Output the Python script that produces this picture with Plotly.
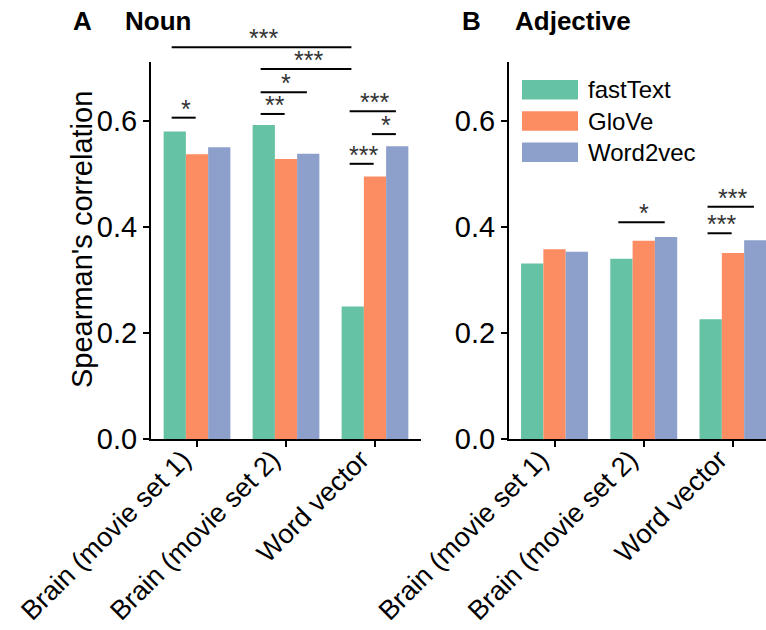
import plotly.graph_objects as go

categories = ["Brain (movie set 1)", "Brain (movie set 2)", "Word vector"]
models = ["fastText", "GloVe", "Word2vec"]
colors = ["#66c2a5", "#fc8d62", "#8da0cb"]

noun_fasttext = [0.580, 0.592, 0.250]
noun_glove = [0.537, 0.528, 0.495]
noun_word2vec = [0.550, 0.538, 0.552]

adj_fasttext = [0.331, 0.340, 0.226]
adj_glove = [0.358, 0.374, 0.351]
adj_word2vec = [0.353, 0.381, 0.375]

# significance brackets: (group1, model1, group2, model2, y, label)
noun_sig = [
    (0, 0, 0, 1, 0.606, "*"),
    (1, 0, 1, 1, 0.613, "**"),
    (1, 0, 1, 2, 0.654, "*"),
    (1, 0, 2, 0, 0.698, "***"),
    (0, 0, 2, 0, 0.739, "***"),
    (2, 0, 2, 2, 0.618, "***"),
    (2, 1, 2, 2, 0.575, "*"),
    (2, 0, 2, 1, 0.519, "***"),
]
adj_sig = [
    (1, 0, 1, 2, 0.409, "*"),
    (2, 0, 2, 2, 0.438, "***"),
    (2, 0, 2, 1, 0.388, "***"),
]

YMAX = 0.711
FONT = "Liberation Sans, Arial, sans-serif"
W, H = 766, 630

fig = go.Figure()
xpos = list(range(len(categories)))
noun = [noun_fasttext, noun_glove, noun_word2vec]
adj = [adj_fasttext, adj_glove, adj_word2vec]
for i, m in enumerate(models):
    fig.add_trace(go.Bar(x=xpos, y=noun[i], name=m, marker_color=colors[i],
                         marker_line_width=0, xaxis="x", yaxis="y", showlegend=False,
                         offsetgroup=str(i)))
    fig.add_trace(go.Bar(x=xpos, y=adj[i], name=m, marker_color=colors[i],
                         marker_line_width=0, xaxis="x2", yaxis="y2", showlegend=False,
                         offsetgroup=str(i)))

offsets = [-0.25, 0.0, 0.25]
shapes = []
annotations = []
for sig, xr, yr in [(noun_sig, "x", "y domain"), (adj_sig, "x2", "y2 domain")]:
    for g1, m1, g2, m2, yv, lab in sig:
        x1 = g1 + offsets[m1]
        x2 = g2 + offsets[m2]
        yd = yv / YMAX
        shapes.append(dict(type="line", xref=xr, yref=yr, x0=x1 - 0.035, x1=x2 - 0.015,
                           y0=yd, y1=yd, line=dict(color="black", width=2)))
        annotations.append(dict(x=(x1 + x2) / 2, y=yd, xref=xr, yref=yr, text=lab,
                                showarrow=False, xanchor="center", yanchor="middle", yshift=9,
                                font=dict(size=25, color="#333", family=FONT)))

# panel titles
TY = 1 - 21 / H
annotations += [
    dict(x=82 / W, y=TY, xref="paper", yref="paper", text="<b>A</b>", showarrow=False,
         xanchor="center", yanchor="middle", font=dict(size=26, color="black", family=FONT)),
    dict(x=123 / W, y=TY, xref="paper", yref="paper", text="<b>Noun</b>", showarrow=False,
         xanchor="left", yanchor="middle", font=dict(size=26, color="black", family=FONT)),
    dict(x=471 / W, y=TY, xref="paper", yref="paper", text="<b>B</b>", showarrow=False,
         xanchor="center", yanchor="middle", font=dict(size=26, color="black", family=FONT)),
    dict(x=513 / W, y=TY, xref="paper", yref="paper", text="<b>Adjective</b>", showarrow=False,
         xanchor="left", yanchor="middle", font=dict(size=26, color="black", family=FONT)),
    dict(x=82 / W, y=1 - 240 / H, xref="paper", yref="paper", text="Spearman's correlation",
         showarrow=False, textangle=-90, xanchor="center", yanchor="middle",
         font=dict(size=29, color="black", family=FONT)),
]

# custom legend with wide swatches
for i, m in enumerate(models):
    top = 80 + i * 31.3
    shapes.append(dict(type="rect", xref="paper", yref="paper", x0=522 / W, x1=578 / W,
                       y0=1 - (top + 19.5) / H, y1=1 - top / H, fillcolor=colors[i],
                       line=dict(width=0)))
    annotations.append(dict(x=586 / W, y=1 - (top + 10) / H, xref="paper", yref="paper",
                            text=m, showarrow=False, xanchor="left", yanchor="middle",
                            font=dict(size=24, color="black", family=FONT)))

axis_common = dict(showline=True, linecolor="black", linewidth=2, ticks="outside",
                   ticklen=6, tickwidth=2, tickcolor="black", showgrid=False, zeroline=False,
                   automargin=False)
yfont = dict(size=29, color="black", family=FONT)
xaxis_extra = dict(tickangle=-45, ticklabelstandoff=-14, ticklabelshift=-14,
                   tickfont=dict(size=27, color="black", family=FONT))

fig.update_layout(
    width=W, height=H, margin=dict(l=0, r=0, t=0, b=0),
    paper_bgcolor="white", plot_bgcolor="white",
    barmode="group", bargap=0.25, bargroupgap=0,
    showlegend=False,
    font=dict(family=FONT, color="black"),
    xaxis=dict(domain=[151 / W, 421 / W], range=[-0.517, 2.517], tickvals=xpos,
               ticktext=categories, anchor="y", **xaxis_extra, **axis_common),
    yaxis=dict(domain=[1 - 439 / H, 1 - 62 / H], range=[0, YMAX], tickvals=[0, 0.2, 0.4, 0.6],
               tickformat=".1f", anchor="x", tickfont=yfont, **axis_common),
    xaxis2=dict(domain=[509 / W, 1.0], range=[-0.51, 2.37], tickvals=xpos,
                ticktext=categories, anchor="y2", **xaxis_extra, **axis_common),
    yaxis2=dict(domain=[1 - 439 / H, 1 - 62 / H], range=[0, YMAX], tickvals=[0, 0.2, 0.4, 0.6],
                tickformat=".1f", anchor="x2", tickfont=yfont, **axis_common),
    shapes=shapes,
    annotations=annotations,
)

fig.write_html("out.html")
